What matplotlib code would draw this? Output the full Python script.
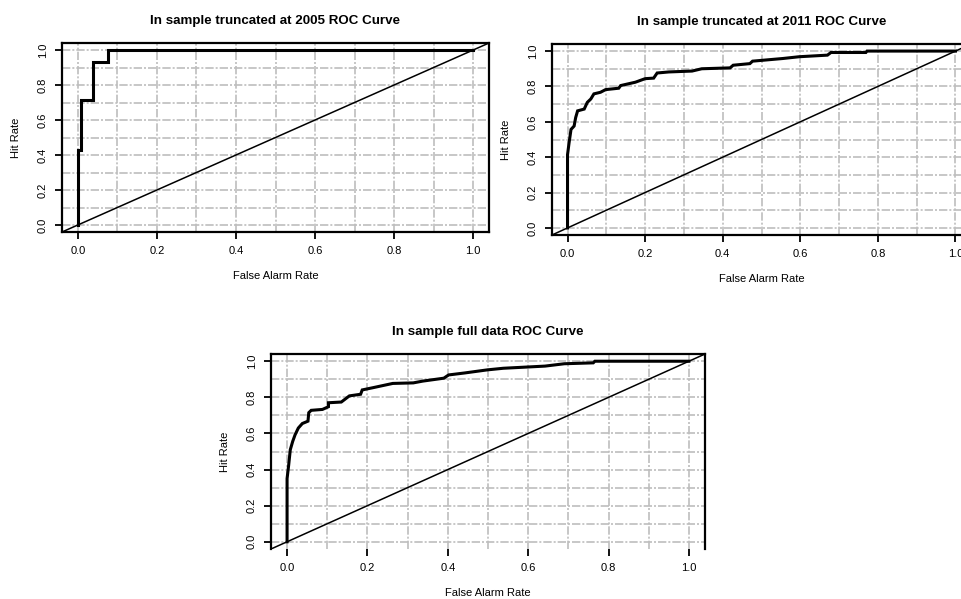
import matplotlib
matplotlib.use("Agg")
import matplotlib.pyplot as plt
import numpy as np

plt.rcParams['font.family'] = ['Liberation Sans', 'DejaVu Sans']

# ROC points (false alarm rate, hit rate)
far_2005 = [0.0, 0.0, 0.008, 0.008, 0.038, 0.038, 0.077, 0.077, 1.0]
hit_2005 = [0.0, 0.429, 0.429, 0.714, 0.714, 0.929, 0.929, 1.0, 1.0]

far_2011 = [0.0, 0.0, 0.004, 0.009, 0.017, 0.021, 0.026, 0.043, 0.051, 0.06,
            0.068, 0.085, 0.098, 0.132, 0.137, 0.175, 0.2, 0.222, 0.231, 0.261,
            0.321, 0.346, 0.419, 0.427, 0.47, 0.477, 0.555, 0.597, 0.67, 0.679,
            0.769, 0.772, 1.0]
hit_2011 = [0.0, 0.414, 0.481, 0.557, 0.576, 0.624, 0.662, 0.672, 0.71, 0.729,
            0.758, 0.767, 0.782, 0.79, 0.805, 0.824, 0.844, 0.847, 0.876, 0.882,
            0.887, 0.9, 0.905, 0.92, 0.929, 0.943, 0.958, 0.968, 0.977, 0.992,
            0.992, 1.0, 1.0]

far_full = [0.0, 0.0, 0.004, 0.008, 0.014, 0.02, 0.028, 0.038, 0.052, 0.054,
            0.06, 0.088, 0.103, 0.103, 0.135, 0.155, 0.183, 0.187, 0.215, 0.263,
            0.314, 0.338, 0.39, 0.402, 0.442, 0.498, 0.538, 0.642, 0.69, 0.762,
            0.766, 1.0]
hit_full = [0.0, 0.35, 0.425, 0.51, 0.556, 0.593, 0.63, 0.655, 0.668, 0.715,
            0.728, 0.733, 0.748, 0.77, 0.774, 0.808, 0.817, 0.841, 0.854, 0.877,
            0.88, 0.89, 0.906, 0.924, 0.935, 0.952, 0.961, 0.973, 0.986, 0.991,
            1.0, 1.0]

titles = ["In sample truncated at 2005 ROC Curve",
          "In sample truncated at 2011 ROC Curve",
          "In sample full data ROC Curve"]

W, H = 961, 599
fig = plt.figure(figsize=(W / 100, H / 100), dpi=100)


def px_axes(left, top, right, bottom):
    return fig.add_axes([left / W, 1 - bottom / H, (right - left) / W, (bottom - top) / H])


panels = [
    (px_axes(62, 43, 489, 232), far_2005, hit_2005, titles[0]),
    (px_axes(552, 44, 971, 235), far_2011, hit_2011, titles[1]),
    (px_axes(271, 354, 705, 549), far_full, hit_full, titles[2]),
]

ticks = np.round(np.arange(0, 1.01, 0.2), 1)
minor = np.round(np.arange(0, 1.01, 0.1), 1)

for ax, far, hit, title in panels:
    ax.set_xlim(-0.04, 1.04)
    ax.set_ylim(-0.04, 1.04)
    ax.set_xticks(ticks)
    ax.set_yticks(ticks)
    ax.set_xticks(minor, minor=True)
    ax.set_yticks(minor, minor=True)
    ax.set_xticklabels([f"{t:.1f}" for t in ticks])
    ax.set_yticklabels([f"{t:.1f}" for t in ticks], rotation=90, va='center')
    ax.tick_params(which='major', length=5, width=1.3, labelsize=8, pad=5)
    ax.tick_params(which='minor', length=0)
    ax.grid(which='both', color='#bebebe', lw=1.2, linestyle=(0, (5, 1.2, 1.2, 1.2)))
    ax.set_axisbelow(True)
    for s in ax.spines.values():
        s.set_linewidth(1.6)

    ax.axline((0, 0), (1, 1), color='black', lw=1.1)
    ax.plot(far, hit, color='black', lw=2.2, solid_joinstyle='miter')

    ax.set_title(title, fontsize=9.6, fontweight='bold', pad=14)
    ax.set_xlabel("False Alarm Rate", fontsize=8, labelpad=11)
    ax.set_ylabel("Hit Rate", fontsize=8, labelpad=12)

# bottom edge of the last panel is not drawn in the original
panels[2][0].spines['bottom'].set_visible(False)

fig.savefig("out.png", dpi=100)
